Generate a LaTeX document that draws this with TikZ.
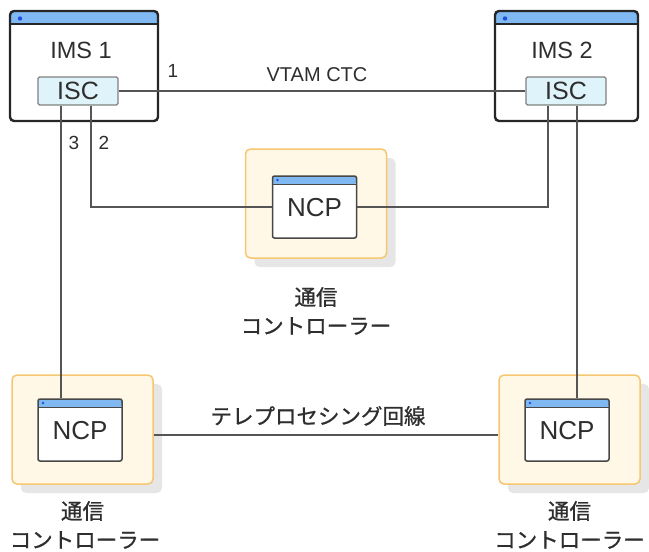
\documentclass[tikz,border=0pt]{standalone}
\usepackage{fontspec}
\setmainfont{Liberation Sans}
\newfontfamily\jp[FakeBold=0.8]{Noto Sans CJK JP}
\usetikzlibrary{shadows}
\definecolor{txt}{HTML}{2E2E2E}
\definecolor{barblue}{HTML}{80B8F2}
\definecolor{dotblue}{HTML}{1E4FE0}
\definecolor{iscfill}{HTML}{DFF4FA}
\definecolor{yfill}{HTML}{FFF8E6}
\definecolor{ydraw}{HTML}{F6C670}
\definecolor{conn}{HTML}{555555}
\definecolor{shadowc}{HTML}{E6E6E6}
\tikzset{
  imsbox/.style={draw=black!85, line width=2.4pt, rounded corners=4pt, fill=white,
    minimum width=#1, minimum height=110pt, inner sep=0pt,
    path picture={
      \fill[barblue] (path picture bounding box.north west) rectangle ([yshift=-13pt]path picture bounding box.north east);
      \draw[black!85, line width=1.2pt] ([yshift=-13pt]path picture bounding box.north west) -- ([yshift=-13pt]path picture bounding box.north east);
      \fill[dotblue] ([xshift=10pt,yshift=-7.5pt]path picture bounding box.north west) circle (2.2pt);
    }},
  iscbox/.style={draw=black!50, line width=1.4pt, rounded corners=1.5pt, fill=iscfill,
    minimum width=80pt, minimum height=28pt, inner sep=0pt, font=\fontsize{25}{28}\selectfont, text=txt},
  ybox/.style={draw=ydraw, line width=1.5pt, rounded corners=5pt, fill=yfill,
    minimum width=141pt, minimum height=109pt, inner sep=0pt,
    drop shadow={shadow xshift=9pt, shadow yshift=-9pt, fill=shadowc, opacity=1}},
  ncpbox/.style={draw=black!72, line width=1.5pt, rounded corners=2pt, fill=white,
    minimum width=84pt, minimum height=62pt, inner sep=0pt,
    font=\fontsize{26}{28}\selectfont, text=txt, text depth=0pt,
    path picture={
      \fill[barblue] (path picture bounding box.north west) rectangle ([yshift=-8pt]path picture bounding box.north east);
      \draw[black!72, line width=0.8pt] ([yshift=-8pt]path picture bounding box.north west) -- ([yshift=-8pt]path picture bounding box.north east);
      \fill[dotblue] ([xshift=5pt,yshift=-4pt]path picture bounding box.north west) circle (1.4pt);
    }},
  imstext/.style={font=\fontsize{23.5}{26}\selectfont, text=txt, inner sep=0pt},
  numlabel/.style={font=\fontsize{19}{22}\selectfont, text=txt, inner sep=0pt},
  conntext/.style={font=\fontsize{20}{24}\selectfont, text=txt, inner sep=0pt},
  jptext/.style={font=\jp\fontsize{21.5}{24}\selectfont, text=txt, inner sep=0pt},
  wire/.style={draw=conn, line width=1.4pt}
}
\begin{document}
\begin{tikzpicture}[x=1pt,y=-1pt]
\useasboundingbox (0,0) rectangle (649,552);
% IMS boxes
\node[imsbox=148pt] (ims1) at (84,66) {};
\node[imstext] (ims1t) at (81,50) {IMS 1};
\node[iscbox] (isc1) at (78,91) {ISC};
\node[imsbox=143pt] (ims2) at (566.5,66) {};
\node[imstext] (ims2t) at (562,50) {IMS 2};
\node[iscbox] (isc2) at (566,91) {ISC};
% controllers
\node[ybox] (ym) at (316,203.5) {};
\node[ybox] (ylb) at (82.5,429.5) {};
\node[ybox] (yrb) at (569.5,429.5) {};
% link 1
\draw[wire] (isc1.east) -- (isc2.west);
\node[numlabel] (l1) at (173,71) {1};
\node[conntext] (vtam) at (317,75) {VTAM CTC};
% link 2
\node[ncpbox] (ncpm) at (314.5,207) {NCP};
\draw[wire] ([xshift=13pt]isc1.south) |- (ncpm.west);
\draw[wire] (ncpm.east) -| ([xshift=-18pt]isc2.south);
\node[numlabel] (l2) at (104,143) {2};
% link 3
\node[ncpbox] (ncplb) at (80,430) {NCP};
\node[ncpbox] (ncprb) at (567,430) {NCP};
\draw[wire] ([xshift=-17pt]isc1.south) -- ([xshift=-17pt]isc1.south |- ncplb.north);
\draw[wire] ([xshift=11pt]isc2.south) -- ([xshift=11pt]isc2.south |- ncprb.north);
\node[numlabel] (l3) at (74,143) {3};
% teleprocessing line
\draw[wire] ([yshift=-5.5pt]ylb.east) -- ([yshift=-5.5pt]yrb.west);
\node[jptext] (tp) at (318,416) {テレプロセシング回線};
% captions
\node[jptext] (cm1) at (316,297) {通信};
\node[jptext] (cm2) at (316,326) {コントローラー};
\node[jptext] (cl1) at (82.5,511) {通信};
\node[jptext] (cl2) at (85,540) {コントローラー};
\node[jptext] (cr1) at (569.5,511) {通信};
\node[jptext] (cr2) at (569.5,540) {コントローラー};
\end{tikzpicture}
\end{document}
